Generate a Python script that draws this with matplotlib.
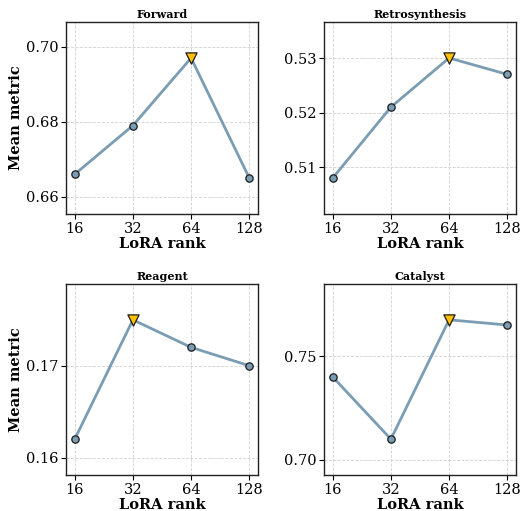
import numpy as np
import matplotlib.pyplot as plt
from matplotlib.ticker import FixedLocator, FixedFormatter, NullLocator

plt.rcParams['font.family'] = 'DejaVu Serif'

LINE_COLOR = '#7b9db4'
BEST_COLOR = '#ffc000'

ranks = [16, 32, 64, 128]
tasks = ['Forward', 'Retrosynthesis', 'Reagent', 'Catalyst']
forward = [0.666, 0.679, 0.697, 0.665]
retro = [0.508, 0.521, 0.530, 0.527]
reagent = [0.162, 0.175, 0.172, 0.170]
catalyst = [0.740, 0.710, 0.7675, 0.765]
yticks = [[0.66, 0.68, 0.70], [0.51, 0.52, 0.53], [0.16, 0.17], [0.70, 0.75]]

all_vals = [forward, retro, reagent, catalyst]

fig = plt.figure(figsize=(5.22, 5.11), dpi=100)
W, H = 522, 511
# axes boxes in pixels (left, top, right, bottom)
boxes = [(66, 22, 258, 214), (324, 22, 516, 214),
         (66, 284, 258, 475), (324, 284, 516, 475)]

for i, (name, vals) in enumerate(zip(tasks, all_vals)):
    l, t, r, b = boxes[i]
    ax = fig.add_axes([l / W, 1 - b / H, (r - l) / W, (b - t) / H])
    vals = np.array(vals)
    ax.plot(ranks, vals, color=LINE_COLOR, lw=2, zorder=2)
    best = np.argmax(vals)
    others = [j for j in range(len(ranks)) if j != best]
    ax.scatter([ranks[j] for j in others], vals[others], s=28, color=LINE_COLOR,
               edgecolor='#1a1a1a', linewidth=0.9, zorder=3)
    ax.scatter([ranks[best]], [vals[best]], s=65, marker='v', color=BEST_COLOR,
               edgecolor='#1a1a1a', linewidth=0.9, zorder=4)
    ax.set_xscale('log', base=2)
    ax.xaxis.set_major_locator(FixedLocator(ranks))
    ax.xaxis.set_major_formatter(FixedFormatter([str(x) for x in ranks]))
    ax.xaxis.set_minor_locator(NullLocator())
    rng = vals.max() - vals.min()
    ax.set_ylim(vals.min() - 0.3 * rng, vals.max() + 0.3 * rng)
    ax.set_yticks(yticks[i])
    ax.set_yticklabels(['%.2f' % v for v in yticks[i]])
    ax.tick_params(labelsize=10.5, length=3.5, width=0.8, pad=2)
    ax.grid(True, ls='--', lw=0.6, color='#cccccc', alpha=0.9)
    ax.set_axisbelow(True)
    for s in ax.spines.values():
        s.set_linewidth(1.0)
        s.set_color('#222222')
    ax.set_title(name, fontsize=8, fontweight='bold', pad=3)
    ax.set_xlabel('LoRA rank', fontsize=10.5, fontweight='bold', labelpad=1)
    if i % 2 == 0:
        ax.set_ylabel('Mean metric', fontsize=10.5, fontweight='bold', labelpad=2)

fig.savefig('out.png', dpi=100)
